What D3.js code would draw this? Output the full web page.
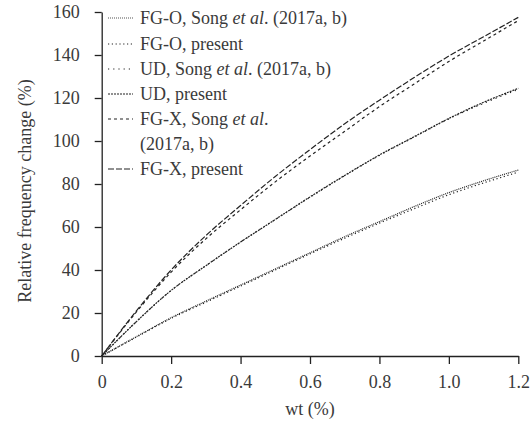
<!DOCTYPE html>
<meta charset="utf-8">
<style>
body { margin: 0; background: #fff; }
.axis path, .axis line { stroke: #222; stroke-width: 1.3; }
.axis text { font-family: "Liberation Serif", "Times New Roman", serif; font-size: 18px; fill: #3a3a3a; }
.label { font-family: "Liberation Serif", "Times New Roman", serif; font-size: 18px; fill: #3a3a3a; }
.line { fill: none; stroke: #222; stroke-width: 1.2px; }
</style>
<body>
<svg width="532" height="421"></svg>
<script src="https://d3js.org/d3.v7.min.js"></script>
<script>

// wt (%)
var wt = [0, 0.1, 0.2, 0.3, 0.4, 0.5, 0.6, 0.7, 0.8, 0.9, 1.0, 1.1, 1.2];

// relative frequency change (%)
var fgoSong    = [0, 9, 17.8, 25.5, 33, 40.5, 48, 55.5, 62.5, 69.5, 76, 81.5, 86.5];
var fgoPresent = [0, 8.8, 17.5, 25, 32.5, 40, 47.5, 54.8, 61.8, 68.5, 75, 80.5, 85.5];
var udSong     = [0, 16, 30.5, 42, 53, 63.5, 73.8, 83.8, 93.3, 101.8, 110.3, 117.5, 124];
var udPresent  = [0, 16, 30.5, 42, 53, 63.5, 74, 84, 93.5, 102, 110.5, 118, 124.5];
var fgxSong    = [0, 20.5, 39, 54.5, 68, 81, 93, 104.5, 116, 126.5, 137, 146.5, 156];
var fgxPresent = [0, 21, 40, 56, 70, 83.5, 96, 108, 119, 129.5, 139.5, 148.5, 157.5];

var xTicks = [0, 0.2, 0.4, 0.6, 0.8, 1.0, 1.2];
var yTicks = [0, 20, 40, 60, 80, 100, 120, 140, 160];

var series = [
  {name: ["FG-O, Song ", "et al", ". (2017a, b)"], values: fgoSong,    dash: "1,1",   color: "#555"},
  {name: ["FG-O, present"],                        values: fgoPresent, dash: "1.2,2.6", color: "#222"},
  {name: ["UD, Song ", "et al", ". (2017a, b)"],   values: udSong,     dash: "1.2,4", color: "#222"},
  {name: ["UD, present"],                          values: udPresent,  dash: "2,1",   color: "#222"},
  {name: ["FG-X, Song ", "et al", "."],            values: fgxSong,    dash: "3,3",   color: "#222", extra: "(2017a, b)"},
  {name: ["FG-X, present"],                        values: fgxPresent, dash: "6,2",   color: "#222"}
];

var svg = d3.select("svg"),
    margin = {top: 12, right: 14, bottom: 65, left: 101.7},
    width = 518.3 - margin.left,
    height = 356 - margin.top,
    g = svg.append("g").attr("transform", "translate(" + margin.left + "," + margin.top + ")");

var x = d3.scaleLinear().domain([0, 1.2]).range([0, width]);
var y = d3.scaleLinear().domain([0, 160]).range([height, 0]);

g.append("g")
    .attr("class", "axis axis--x")
    .attr("transform", "translate(0," + height + ")")
    .call(d3.axisBottom(x)
      .tickValues(xTicks)
      .tickSizeInner(8)
      .tickSizeOuter(0)
      .tickPadding(11)
      .tickFormat(function(d) { return d === 0 ? "0" : d3.format(".1f")(d); }));

g.append("g")
    .attr("class", "axis axis--y")
    .call(d3.axisLeft(y)
      .tickValues(yTicks)
      .tickSizeInner(7)
      .tickSizeOuter(0)
      .tickPadding(15));

var line = d3.line()
    .x(function(d, i) { return x(wt[i]); })
    .y(function(d) { return y(d); })
    .curve(d3.curveMonotoneX);

series.forEach(function(s) {
  g.append("path")
      .datum(s.values)
      .attr("class", "line")
      .attr("stroke", s.color)
      .attr("stroke-dasharray", s.dash)
      .attr("d", line);
});

// legend
var legend = svg.append("g");
var rowY = [18, 44, 69, 94, 119, 169];

series.forEach(function(s, i) {
  legend.append("line")
      .attr("x1", 108).attr("x2", 133)
      .attr("y1", rowY[i]).attr("y2", rowY[i])
      .attr("stroke", s.color)
      .attr("stroke-width", 1.2)
      .attr("stroke-dasharray", s.dash);
  var t = legend.append("text")
      .attr("class", "label")
      .attr("x", 140)
      .attr("y", rowY[i])
      .attr("dy", "0.35em");
  s.name.forEach(function(part) {
    t.append("tspan")
      .style("font-style", part === "et al" ? "italic" : "normal")
      .text(part);
  });
  if (s.extra) {
    legend.append("text")
      .attr("class", "label")
      .attr("x", 140)
      .attr("y", 144)
      .attr("dy", "0.35em")
      .text(s.extra);
  }
});

svg.append("text")
    .attr("class", "label")
    .attr("text-anchor", "middle")
    .attr("x", 310)
    .attr("y", 415)
    .text("wt (%)");

svg.append("text")
    .attr("class", "label")
    .attr("text-anchor", "middle")
    .attr("transform", "translate(31,191) rotate(-90)")
    .text("Relative frequency change (%)");

</script>
</body>
